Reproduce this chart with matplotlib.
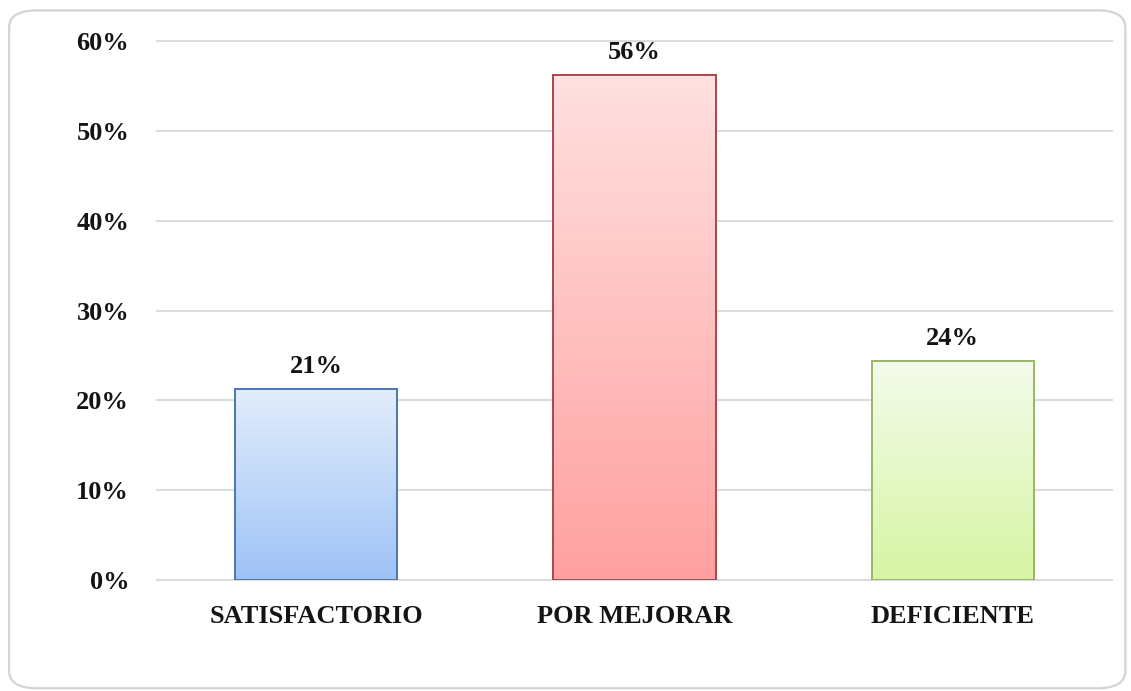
import matplotlib

matplotlib.use("Agg")
import matplotlib.pyplot as plt
import numpy as np
from matplotlib.colors import LinearSegmentedColormap
from matplotlib.patches import FancyBboxPatch
from matplotlib.ticker import FuncFormatter


categorias = ["SATISFACTORIO", "POR MEJORAR", "DEFICIENTE"]
porcentajes = [21.3, 56.2, 24.4]
marcas_y = [0, 10, 20, 30, 40, 50, 60]

# degradado (arriba, abajo) y borde de cada barra
colores_arriba = ["#e3eefc", "#ffe0e0", "#f5fbec"]
colores_abajo = ["#9ec2f6", "#ffa0a0", "#d6f5a3"]
colores_borde = ["#4a76b0", "#a8484a", "#98b862"]

FUENTE = ["Liberation Serif", "DejaVu Serif"]
TAM = 19


def rellenar_degradado(ax, barra, arriba, abajo):
    """Pinta la barra con un degradado vertical recortado a su forma."""
    cmap = LinearSegmentedColormap.from_list("g", [abajo, arriba])
    x0, y0 = barra.get_x(), barra.get_y()
    ancho, alto = barra.get_width(), barra.get_height()
    grad = np.linspace(0, 1, 256).reshape(-1, 1)
    img = ax.imshow(
        grad,
        cmap=cmap,
        origin="lower",
        aspect="auto",
        extent=(x0, x0 + ancho, y0, y0 + alto),
        zorder=2,
    )
    img.set_clip_path(barra)


fig = plt.figure(figsize=(11.31, 6.91), dpi=100)
fig.patch.set_facecolor("white")

marco = FancyBboxPatch(
    (0.008, 0.004), 0.987, 0.981,
    boxstyle="round,pad=0,rounding_size=0.025",
    transform=fig.transFigure,
    facecolor="none",
    edgecolor="#d4d4d4",
    linewidth=1.6,
    zorder=-1,
)
fig.patches.append(marco)

ax = fig.add_axes([0.1388, 0.1606, 0.8444, 0.7800])
ax.set_facecolor("none")

posiciones = np.arange(len(categorias))
barras = ax.bar(posiciones, porcentajes, width=0.51, facecolor="none", zorder=3)

for barra, arriba, abajo, borde, valor in zip(
    barras, colores_arriba, colores_abajo, colores_borde, porcentajes
):
    rellenar_degradado(ax, barra, arriba, abajo)
    barra.set_edgecolor(borde)
    barra.set_linewidth(1.4)
    ax.annotate(
        f"{valor:.0f}%",
        (barra.get_x() + barra.get_width() / 2, valor),
        xytext=(0, 8),
        textcoords="offset points",
        ha="center",
        va="bottom",
        fontsize=TAM,
        fontweight="bold",
        family=FUENTE,
        color="#141414",
    )

ax.set_xlim(-0.5, len(categorias) - 0.5)
ax.set_ylim(0, 60)
ax.set_yticks(marcas_y)
ax.yaxis.set_major_formatter(FuncFormatter(lambda v, _: f"{v:.0f}%"))
ax.set_xticks(posiciones)
ax.set_xticklabels(categorias)

ax.grid(axis="y", color="#dcdcdc", linewidth=1.5, zorder=1)
for linea in ax.get_ygridlines():
    linea.set_clip_on(False)
ax.set_axisbelow(True)
for lado in ["top", "right", "left", "bottom"]:
    ax.spines[lado].set_visible(False)

ax.tick_params(axis="both", length=0)
ax.tick_params(axis="y", pad=20)
ax.tick_params(axis="x", pad=18)
for etiqueta in ax.get_yticklabels() + ax.get_xticklabels():
    etiqueta.set_fontfamily(FUENTE)
    etiqueta.set_fontweight("bold")
    etiqueta.set_fontsize(TAM)
    etiqueta.set_color("#141414")

fig.savefig("out.png", dpi=100, facecolor="white")
plt.close(fig)
